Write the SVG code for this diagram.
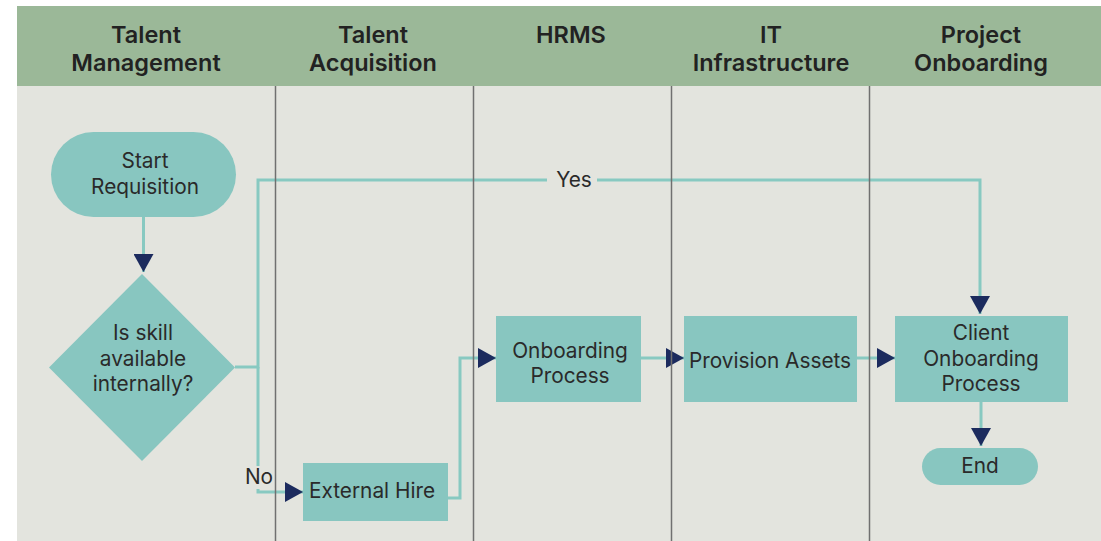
<svg xmlns="http://www.w3.org/2000/svg" width="1101" height="541" viewBox="0 0 1101 541">
<style>
.hdr{font-family:Inter,"Liberation Sans",sans-serif;font-weight:600;font-size:23.5px;fill:#222;text-anchor:middle}
.t{font-family:Inter,"Liberation Sans",sans-serif;font-size:20.8px;fill:#2a2a2a;text-anchor:middle}
.node{fill:#88c6c0}
.conn{fill:none;stroke:#88c9c1;stroke-width:3}
.div{stroke:#707070;stroke-width:1.5}
.lblbg{fill:#e3e4de}
</style>
<defs>
<marker id="ah" viewBox="0 0 18 20" refX="18" refY="10" markerWidth="18" markerHeight="20" markerUnits="userSpaceOnUse" orient="auto">
<path d="M0 0 L18 10 L0 20 Z" fill="#1c2b5e"/>
</marker>
</defs>
<rect x="0" y="0" width="1101" height="541" fill="#ffffff"/>
<rect x="17" y="86" width="1084" height="455" fill="#e3e4de"/>
<rect x="17" y="6" width="1084" height="80" fill="#9bb898"/>
<g id="headers">
<text class="hdr" x="146" y="43">Talent</text>
<text class="hdr" x="146" y="71">Management</text>
<text class="hdr" x="373" y="43">Talent</text>
<text class="hdr" x="373" y="71">Acquisition</text>
<text class="hdr" x="571" y="43">HRMS</text>
<text class="hdr" x="771" y="43">IT</text>
<text class="hdr" x="771" y="71">Infrastructure</text>
<text class="hdr" x="981" y="43">Project</text>
<text class="hdr" x="981" y="71">Onboarding</text>
</g>
<g id="connectors">
<path class="conn" d="M143.5 217 V272" marker-end="url(#ah)"/>
<path class="conn" d="M235 367 H258 V180 H980 V314" marker-end="url(#ah)"/>
<path class="conn" d="M258 367 V492 H303" marker-end="url(#ah)"/>
<path class="conn" d="M448 498 H460 V358 H496" marker-end="url(#ah)"/>
<path class="conn" d="M641 358 H684" marker-end="url(#ah)"/>
<path class="conn" d="M857 358 H895" marker-end="url(#ah)"/>
<path class="conn" d="M981 402 V446" marker-end="url(#ah)"/>
<g id="label-yes">
<rect class="lblbg" x="547" y="168" width="50" height="24"/>
<text class="t" x="574" y="187">Yes</text>
</g>
<g id="label-no">
<rect class="lblbg" x="244" y="466" width="30" height="23"/>
<text class="t" x="259" y="484">No</text>
</g>
</g>
<g id="dividers">
<line class="div" x1="275.5" y1="86" x2="275.5" y2="541"/>
<line class="div" x1="473.5" y1="86" x2="473.5" y2="541"/>
<line class="div" x1="671.5" y1="86" x2="671.5" y2="541"/>
<line class="div" x1="869.5" y1="86" x2="869.5" y2="541"/>
</g>
<g id="start">
<rect class="node" x="51" y="132" width="185" height="85" rx="42.5"/>
<text class="t" x="145" y="168">Start</text>
<text class="t" x="145" y="194">Requisition</text>
</g>
<g id="decision">
<polygon class="node" points="142,274 235,367.5 142,461 49,367.5"/>
<text class="t" x="143" y="340">Is skill</text>
<text class="t" x="143" y="366">available</text>
<text class="t" x="143" y="391">internally?</text>
</g>
<g id="external-hire">
<rect class="node" x="303" y="463" width="145" height="58"/>
<text class="t" x="372" y="498">External Hire</text>
</g>
<g id="onboarding-process">
<rect class="node" x="496" y="316" width="145" height="86"/>
<text class="t" x="570" y="358">Onboarding</text>
<text class="t" x="570" y="383">Process</text>
</g>
<g id="provision-assets">
<rect class="node" x="684" y="316" width="173" height="86"/>
<text class="t" x="770" y="368">Provision Assets</text>
</g>
<g id="client-onboarding">
<rect class="node" x="895" y="316" width="173" height="86"/>
<text class="t" x="981" y="340">Client</text>
<text class="t" x="981" y="366">Onboarding</text>
<text class="t" x="981" y="391">Process</text>
</g>
<g id="end">
<rect class="node" x="922" y="448" width="116" height="37" rx="18.5"/>
<text class="t" x="980" y="473">End</text>
</g>
</svg>
